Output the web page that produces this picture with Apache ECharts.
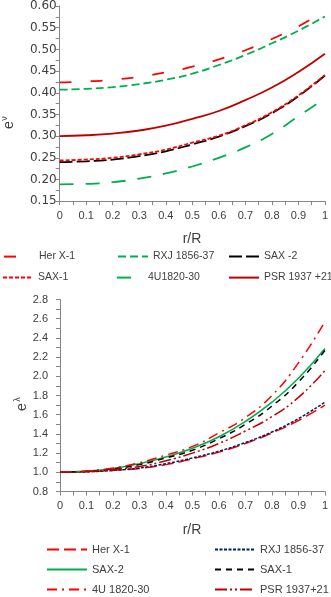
<!DOCTYPE html>
<html><head><meta charset="utf-8">
<script src="https://cdn.jsdelivr.net/npm/echarts@6/dist/echarts.min.js"></script>
<style>html,body{margin:0;padding:0;background:#fff}#c{width:331px;height:597px}</style>
</head><body><div id="c"></div>
<script>
// ---- data ----
var rValues = [0, 0.1, 0.2, 0.3, 0.4, 0.5, 0.6, 0.7, 0.8, 0.9, 1.0];
var xTickLabels = ['0','0.1','0.2','0.3','0.4','0.5','0.6','0.7','0.8','0.9','1'];

// top panel: e^nu
var topNames = ['Her X-1', 'RXJ 1856-37', 'SAX -2', 'SAX-1', '4U1820-30', 'PSR 1937 +21'];
var topHerX1 = [0.424, 0.426, 0.430, 0.437, 0.447, 0.460, 0.477, 0.498, 0.524, 0.553, 0.589];
var topRXJ   = [0.407, 0.409, 0.413, 0.420, 0.430, 0.444, 0.464, 0.487, 0.514, 0.543, 0.576];
var topSAX2  = [0.240, 0.242, 0.246, 0.254, 0.265, 0.281, 0.299, 0.323, 0.353, 0.392, 0.440];
var topSAX1  = [0.244, 0.246, 0.250, 0.258, 0.269, 0.285, 0.301, 0.325, 0.355, 0.394, 0.441];
var top4U    = [0.189, 0.190, 0.194, 0.202, 0.214, 0.230, 0.250, 0.274, 0.305, 0.346, 0.387];
var topPSR   = [0.300, 0.302, 0.306, 0.313, 0.324, 0.340, 0.358, 0.383, 0.412, 0.448, 0.490];

// bottom panel: e^lambda
var botNames = ['Her X-1', 'RXJ 1856-37', 'SAX-2', 'SAX-1', '4U 1820-30', 'PSR 1937+21'];
var botHerX1 = [1.000, 1.005, 1.020, 1.040, 1.080, 1.140, 1.210, 1.300, 1.410, 1.540, 1.700];
var botRXJ   = [1.000, 1.005, 1.020, 1.045, 1.090, 1.150, 1.220, 1.310, 1.420, 1.560, 1.730];
var botSAX2  = [1.000, 1.012, 1.040, 1.090, 1.160, 1.250, 1.370, 1.530, 1.730, 1.980, 2.290];
var botSAX1  = [1.000, 1.010, 1.035, 1.080, 1.150, 1.230, 1.350, 1.500, 1.690, 1.940, 2.270];
var bot4U    = [1.000, 1.012, 1.045, 1.100, 1.180, 1.270, 1.410, 1.570, 1.800, 2.140, 2.570];
var botPSR   = [1.000, 1.008, 1.030, 1.060, 1.120, 1.200, 1.300, 1.430, 1.580, 1.780, 2.060];

var topYTicks = {min: 0.15, max: 0.60, step: 0.05};
var botYTicks = {min: 0.8, max: 2.8, step: 0.2};

// ---- build ----
function pairs(vals){ return rValues.map(function(r,i){ return [r, vals[i]]; }); }
var ZW = '\u200b'; // keeps bottom legend names distinct
var topData = [topHerX1, topRXJ, topSAX2, topSAX1, top4U, topPSR];
var botData = [botHerX1, botRXJ, botSAX2, botSAX1, bot4U, botPSR];
var topStyles = [
  {color:'#FF0000', type:[12,19], width:1.8},
  {color:'#00B050', type:[8,4], width:1.8},
  {color:'#000000', type:[13,4], width:1.8},
  {color:'#FF0000', type:[4,2], width:1.8},
  {color:'#00B050', type:[14,12], width:1.8},
  {color:'#C00000', type:'solid', width:1.8}
];
var botStyles = [
  {color:'#FF0000', type:[12,5], width:1.5},
  {color:'#002060', type:[3,1.5], width:1.5},
  {color:'#00B050', type:'solid', width:1.6},
  {color:'#000000', type:[6,5], width:1.5},
  {color:'#FF0000', type:[10,5,2,5], width:1.5},
  {color:'#C00000', type:[12,3,2,3,2,3], width:1.5}
];

var series = [];
topNames.forEach(function(n,i){
  series.push({name:n, type:'line', xAxisIndex:0, yAxisIndex:0, data:pairs(topData[i]),
    smooth:true, symbol:'none', lineStyle:topStyles[i], itemStyle:{color:topStyles[i].color}, z: 2 + (i===3?1:0)});
});
botNames.forEach(function(n,i){
  series.push({name:n+ZW, type:'line', xAxisIndex:1, yAxisIndex:1, data:pairs(botData[i]),
    smooth:true, symbol:'none', lineStyle:botStyles[i], itemStyle:{color:botStyles[i].color}, z: 2});
});

var axisCol = '#868686';
function xAxis(gi){
  return {type:'value', gridIndex:gi, min:0, max:1, interval:0.1,
    axisLine:{lineStyle:{color:axisCol}}, axisTick:{inside:false, length:4, lineStyle:{color:axisCol}},
    minorTick:{show:true, splitNumber:2, length:4, lineStyle:{color:axisCol}},
    splitLine:{show:false}, minorSplitLine:{show:false},
    axisLabel:{margin:9, color:'#404040', fontFamily:'Liberation Sans', fontSize:11,
      formatter:function(v){ return xTickLabels[Math.round(v*10)]; }}};
}
function yAxis(gi, t, dec, font, size, margin){
  return {type:'value', gridIndex:gi, min:t.min, max:t.max, interval:t.step,
    axisLine:{show:true, lineStyle:{color:axisCol}}, axisTick:{show:true, inside:false, length:4, lineStyle:{color:axisCol}},
    minorTick:{show:true, splitNumber:2, length:4, lineStyle:{color:axisCol}},
    splitLine:{show:false}, minorSplitLine:{show:false},
    axisLabel:{margin:margin, color:'#404040', fontFamily:font, fontSize:size,
      formatter:function(v){ return v.toFixed(dec); }}};
}

var legends = [];
function addLegend(name, textLeft, cy, iconW, fs){
  legends.push({data:[name], left:textLeft - 5 - iconW, top:cy - 7, itemWidth:iconW, itemHeight:14,
    selectedMode:false, padding:0,
    itemStyle:{opacity:0},
    textStyle:{fontFamily:'Liberation Sans', fontSize:fs, color:'#404040'},
    formatter:function(n){ return n.replace(/\u200b/g,''); }});
}
var topLegendPos = [[38,258],[152,258],[263,258],[37,279],[147,279],[263,279]];
var topIconW = [30,30,30,30,26,30];
topNames.forEach(function(n,i){ addLegend(n, topLegendPos[i][0], topLegendPos[i][1], topIconW[i], 10.5); });
var botLegendPos = [[91,551],[259,551],[91,571],[259,571],[91,591],[259,591]];
botNames.forEach(function(n,i){ addLegend(n+ZW, botLegendPos[i][0], botLegendPos[i][1], 40, 11); });

var titleFont = {fontFamily:'Liberation Sans', fill:'#404040'};
var option = {
  animation:false,
  grid:[{left:59.7, top:5, width:266.3, height:196.2},
        {left:60, top:299.5, width:265.5, height:192}],
  xAxis:[xAxis(0), xAxis(1)],
  yAxis:[yAxis(0, topYTicks, 2, 'DejaVu Sans', 12, 3), yAxis(1, botYTicks, 1, 'Liberation Sans', 11, 12)],
  legend: legends,
  series: series,
  graphic:[
    {type:'text', x:192, y:239, style:Object.assign({text:'r/R', fontSize:14, align:'center', verticalAlign:'middle'}, titleFont)},
    {type:'text', x:192, y:530, style:Object.assign({text:'r/R', fontSize:14, align:'center', verticalAlign:'middle'}, titleFont)},
    {type:'text', x:9, y:125, rotation:Math.PI/2, style:Object.assign({text:'e', fontSize:14, align:'center', verticalAlign:'middle'}, titleFont)},
    {type:'text', x:4.5, y:118.5, rotation:Math.PI/2, style:Object.assign({text:'\u03bd', fontSize:9, align:'center', verticalAlign:'middle'}, titleFont)},
    {type:'text', x:22, y:407, rotation:Math.PI/2, style:Object.assign({text:'e', fontSize:14, align:'center', verticalAlign:'middle'}, titleFont)},
    {type:'text', x:17.5, y:399.5, rotation:Math.PI/2, style:Object.assign({text:'\u03bb', fontSize:9, align:'center', verticalAlign:'middle'}, titleFont)}
  ]
};

var chart = echarts.init(document.getElementById('c'), null, {renderer:'canvas'});
chart.setOption(option);
</script></body></html>
